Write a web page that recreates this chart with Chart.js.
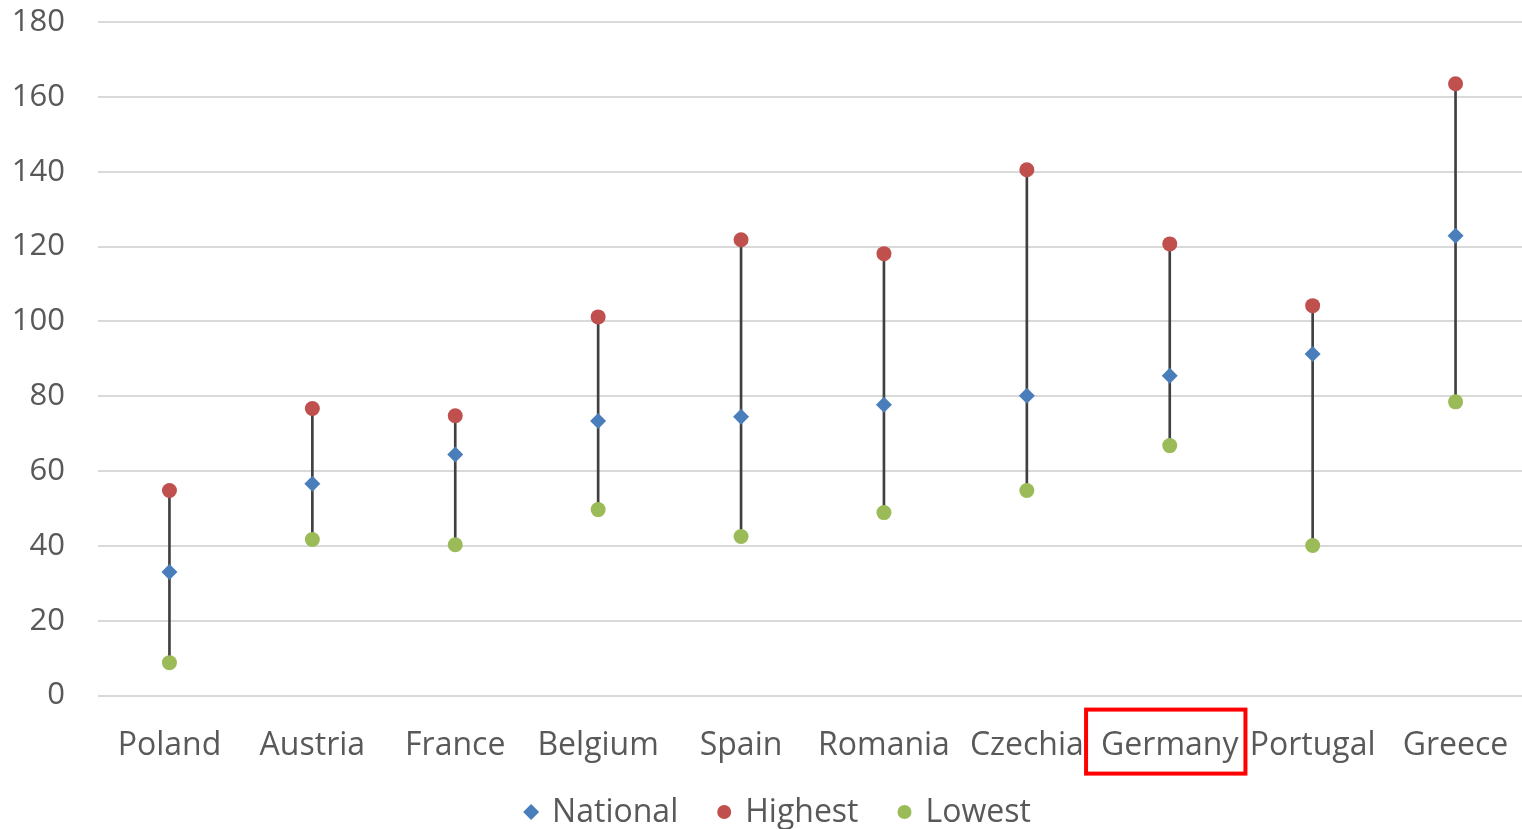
<!DOCTYPE html>
<html lang="en">
<head>
    <meta charset="UTF-8">
    <title>National, highest and lowest values by country</title>
    <script src="https://cdn.jsdelivr.net/npm/chart.js"></script>
    <style>
        html, body { margin: 0; padding: 0; background: #fff; overflow: hidden; }
        #wrap { width: 1527px; height: 829px; }
    </style>
</head>
<body>
    <div id="wrap"><canvas id="chart"></canvas></div>

    <script>
        const countries = ['Poland', 'Austria', 'France', 'Belgium', 'Spain', 'Romania', 'Czechia', 'Germany', 'Portugal', 'Greece'];
        const nationalVals = [33, 56.6, 64.4, 73.4, 74.5, 77.7, 80.1, 85.5, 91.3, 122.9];
        const highestVals = [54.8, 76.7, 74.8, 101.2, 121.8, 118.1, 140.5, 120.7, 104.2, 163.5];
        const lowestVals = [8.8, 41.7, 40.3, 49.7, 42.5, 48.9, 54.8, 66.8, 40.1, 78.5];
        const yTicks = [0, 20, 40, 60, 80, 100, 120, 140, 160, 180];
        const highlighted = 'Germany';

        const fontFamily = '"Open Sans", "Noto Sans", sans-serif';
        const textColor = '#595959';

        // low-high whiskers as thin floating bars
        const ranges = lowestVals.map((lo, i) => [lo, highestVals[i]]);

        // red frame around one category label
        const highlightBox = {
            id: 'highlightBox',
            afterDraw(chart) {
                const x = chart.scales.x;
                const i = countries.indexOf(highlighted);
                if (i < 0) return;
                const ctx = chart.ctx;
                ctx.save();
                ctx.font = '32px ' + fontFamily;
                const w = ctx.measureText(highlighted).width;
                const cx = x.getPixelForValue(i) - 4;
                const top = chart.chartArea.bottom + 14;
                ctx.strokeStyle = '#ff0000';
                ctx.lineWidth = 4;
                ctx.strokeRect(cx - w / 2 - 11, top, w + 22, 64);
                ctx.restore();
            }
        };

        // legend row along the bottom edge
        const bottomLegend = {
            id: 'bottomLegend',
            afterDraw(chart) {
                const ctx = chart.ctx;
                const items = chart.data.datasets.filter(d => d.type === 'line');
                ctx.save();
                ctx.font = '32px ' + fontFamily;
                ctx.textBaseline = 'middle';
                const markGap = 21, itemGap = 46;
                const widths = items.map(d => ctx.measureText(d.label).width);
                let total = 0;
                widths.forEach((w, k) => { total += markGap + w + (k ? itemGap : 0); });
                let x = 781 - total / 2;
                const y = 812;
                items.forEach((d, k) => {
                    if (k) x += itemGap;
                    ctx.fillStyle = d.backgroundColor;
                    Chart.helpers.drawPoint(ctx, { pointStyle: d.pointStyle, radius: d.pointStyle === 'rectRot' ? 8 : 7, borderWidth: 0 }, x, y);
                    ctx.fillStyle = textColor;
                    ctx.fillText(d.label, x + markGap, y + 1);
                    x += markGap + widths[k];
                });
                ctx.restore();
            }
        };

        new Chart(document.getElementById('chart'), {
            data: {
                labels: countries,
                datasets: [
                    {
                        type: 'line', label: 'National', data: nationalVals,
                        showLine: false, pointStyle: 'rectRot', pointRadius: 8, pointHoverRadius: 8,
                        backgroundColor: '#4a7ebb', borderColor: '#4a7ebb', pointBorderWidth: 0, order: 1
                    },
                    {
                        type: 'line', label: 'Highest', data: highestVals,
                        showLine: false, pointStyle: 'circle', pointRadius: 7.5, pointHoverRadius: 7.5,
                        backgroundColor: '#c0504d', borderColor: '#c0504d', pointBorderWidth: 0, order: 2
                    },
                    {
                        type: 'line', label: 'Lowest', data: lowestVals,
                        showLine: false, pointStyle: 'circle', pointRadius: 7.5, pointHoverRadius: 7.5,
                        backgroundColor: '#9bbb59', borderColor: '#9bbb59', pointBorderWidth: 0, order: 3
                    },
                    {
                        type: 'bar', label: 'range', data: ranges,
                        backgroundColor: '#404040', barThickness: 2, order: 10
                    }
                ]
            },
            options: {
                responsive: true,
                maintainAspectRatio: false,
                animation: false,
                layout: { autoPadding: false, padding: { top: 22, right: 0, left: 0, bottom: 64 } },
                scales: {
                    x: {
                        offset: true,
                        // invisible tick marks keep the labels clear of the plot
                        grid: { color: 'transparent', drawOnChartArea: false, drawTicks: true, tickLength: 31 },
                        border: { display: false },
                        ticks: { color: textColor, font: { family: fontFamily, size: 32 }, padding: 0, maxRotation: 0, autoSkip: false }
                    },
                    y: {
                        min: 0, max: 180,
                        afterBuildTicks(axis) { axis.ticks = yTicks.map(v => ({ value: v })); },
                        afterFit(axis) { axis.width = 98; },
                        grid: { color: '#d9d9d9', lineWidth: 2, drawTicks: true, tickLength: 33, tickColor: 'transparent' },
                        border: { display: false },
                        ticks: { color: textColor, font: { family: fontFamily, size: 31 }, padding: 0 }
                    }
                },
                plugins: {
                    tooltip: { enabled: false },
                    legend: { display: false }
                }
            },
            plugins: [highlightBox, bottomLegend]
        });
    </script>
</body>
</html>
